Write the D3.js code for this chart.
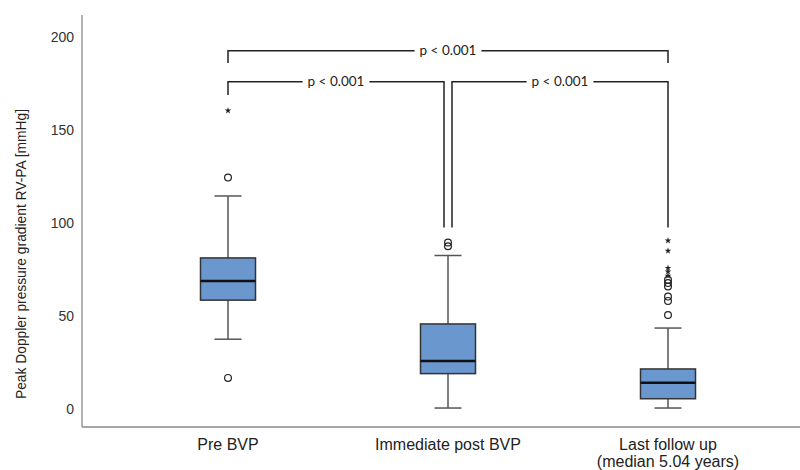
<!DOCTYPE html>
<html><head><meta charset="utf-8">
<script src="https://cdn.jsdelivr.net/npm/d3@7"></script>
<style>body{margin:0;background:#fff}</style>
</head><body>
<svg id="c" width="800" height="470"></svg>
<script>
const categories = ["Pre BVP", "Immediate post BVP", "Last follow up\n(median 5.04 years)"];
const whiskerLow  = [37.5, 0.5, 0.5];
const q1          = [58.5, 19, 5.5];
const median      = [68.8, 25.8, 14.1];
const q3          = [81.2, 45.7, 21.5];
const whiskerHigh = [114.5, 82.5, 43.5];
const outliers    = [[124.4, 16.7], [89.5, 87.5], [50.5, 58.1, 60.4, 65.8, 67.7, 69.4]];
const extremes    = [[160.4], [], [71.5, 73.8, 75.8, 85, 90.5]];
const yTicks      = [0, 50, 100, 150, 200];
const comparisons = [
  {from: 0, to: 2, label: "p < 0.001", level: 0},
  {from: 0, to: 1, label: "p < 0.001", level: 1},
  {from: 1, to: 2, label: "p < 0.001", level: 1}
];

const svg = d3.select("#c");
const y = d3.scaleLinear().domain([-9.7, 211.8]).range([427, 15]);
const x = d3.scaleBand().domain(categories).range([118, 778]);
const cx = i => x(categories[i]) + x.bandwidth() / 2;
const boxW = 55, capW = 27;
const font = "'Liberation Sans', Arial, sans-serif";

// axes lines
svg.append("line").attr("x1", 82).attr("x2", 82).attr("y1", y.range()[1]).attr("y2", y.range()[0])
  .attr("stroke", "#888").attr("stroke-width", 1.3);
svg.append("line").attr("x1", 82).attr("x2", 800).attr("y1", y.range()[0]).attr("y2", y.range()[0])
  .attr("stroke", "#888").attr("stroke-width", 1.3);

// y tick labels
const yAxis = d3.axisLeft(y).tickValues(yTicks).tickSize(0).tickPadding(8);
const ga = svg.append("g").attr("transform", "translate(82,0)").call(yAxis);
ga.select(".domain").remove();
ga.selectAll("text").attr("font-family", font).attr("font-size", 14).attr("fill", "#333");

// y title
svg.append("text").attr("transform", `translate(26,254) rotate(-90)`)
  .attr("text-anchor", "middle").attr("font-family", font).attr("font-size", 15.5).attr("fill", "#222")
  .attr("textLength", 290).attr("lengthAdjust", "spacingAndGlyphs")
  .text("Peak Doppler pressure gradient RV-PA [mmHg]");

// x labels
categories.forEach((c, i) => {
  const t = svg.append("text").attr("text-anchor", "middle").attr("font-family", font)
    .attr("font-size", 16).attr("fill", "#222");
  c.split("\n").forEach((line, k) => {
    t.append("tspan").attr("x", cx(i)).attr("y", 450 + k * 16.5).text(line);
  });
});

// boxes
categories.forEach((c, i) => {
  const g = svg.append("g");
  const m = cx(i);
  g.append("line").attr("x1", m).attr("x2", m).attr("y1", y(whiskerHigh[i])).attr("y2", y(q3[i]))
    .attr("stroke", "#555").attr("stroke-width", 1.5);
  g.append("line").attr("x1", m).attr("x2", m).attr("y1", y(q1[i])).attr("y2", y(whiskerLow[i]))
    .attr("stroke", "#555").attr("stroke-width", 1.5);
  [whiskerHigh[i], whiskerLow[i]].forEach(v => {
    g.append("line").attr("x1", m - capW / 2).attr("x2", m + capW / 2).attr("y1", y(v)).attr("y2", y(v))
      .attr("stroke", "#555").attr("stroke-width", 1.5);
  });
  g.append("rect").attr("x", m - boxW / 2).attr("width", boxW).attr("y", y(q3[i]))
    .attr("height", y(q1[i]) - y(q3[i])).attr("fill", "#6b97cf").attr("stroke", "#333").attr("stroke-width", 1.5);
  g.append("line").attr("x1", m - boxW / 2).attr("x2", m + boxW / 2).attr("y1", y(median[i])).attr("y2", y(median[i]))
    .attr("stroke", "#111").attr("stroke-width", 2.5);
  outliers[i].forEach(v => {
    g.append("circle").attr("cx", m).attr("cy", y(v)).attr("r", 3.4)
      .attr("fill", "none").attr("stroke", "#222").attr("stroke-width", 1.2);
  });
  extremes[i].forEach(v => {
    g.append("path").attr("d", d3.symbol(d3.symbolStar, 14)()).attr("transform", `translate(${m},${y(v)})`)
      .attr("fill", "#222");
  });
});

// comparison brackets
const levelY = [50.7, 81.7];
const gap = 5;
comparisons.forEach(cmp => {
  const ly = levelY[cmp.level];
  let x1 = cx(cmp.from), x2 = cx(cmp.to);
  let d1, d2;
  if (cmp.level === 0) { d1 = 63; d2 = 63; }
  else if (cmp.from === 0) { x2 -= 4; d1 = 95; d2 = 227.5; }
  else { x1 += 4; d1 = 227.5; d2 = 227.5; }
  const mid = (x1 + x2) / 2;
  const t = svg.append("text").attr("x", mid).attr("y", ly + 4.5).attr("text-anchor", "middle")
    .attr("font-family", "Lato, sans-serif").attr("font-size", 13.5).attr("fill", "#222").text(cmp.label);
  const w = t.node().getComputedTextLength();
  const g = svg.append("g").attr("fill", "none").attr("stroke", "#222").attr("stroke-width", 1.5);
  g.append("path").attr("d", `M${x1},${d1}V${ly}H${mid - w / 2 - gap}`);
  g.append("path").attr("d", `M${mid + w / 2 + gap},${ly}H${x2}V${d2}`);
});
</script>
</body></html>
